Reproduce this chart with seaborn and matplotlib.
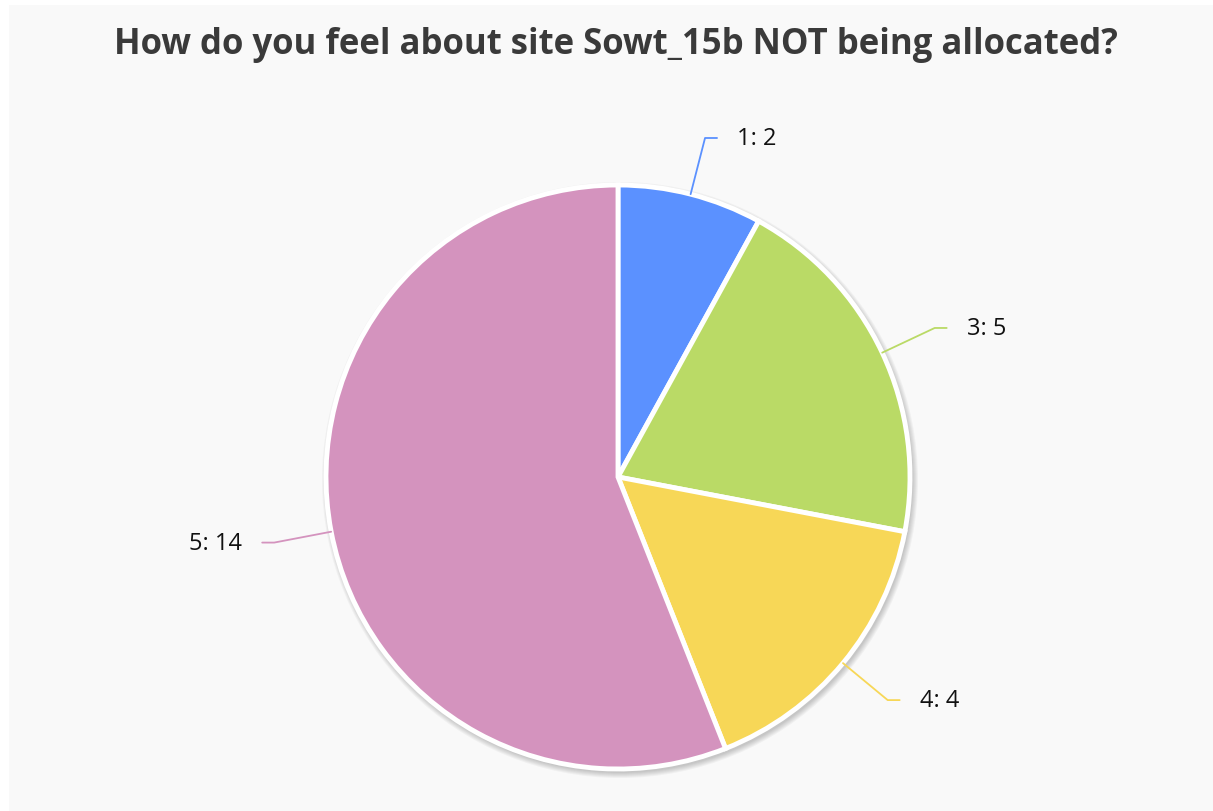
import numpy as np
import seaborn as sns
import matplotlib.pyplot as plt
from matplotlib.patches import Rectangle, Circle

# answers and counts
answers = ["1", "3", "4", "5"]
counts = [2, 5, 4, 14]
colors = ["#5B91FF", "#BADA66", "#F7D757", "#D493BE"]
title = "How do you feel about site Sowt_15b NOT being allocated?"

sns.set_style("white")
plt.rcParams['font.family'] = ['Open Sans', 'DejaVu Sans']

W, H = 1213, 812
fig = plt.figure(figsize=(W / 100, H / 100), dpi=100)
fig.patch.set_facecolor("white")
fig.patches.append(Rectangle((9 / W, 0), 1 - 9 / W, (H - 6) / H, transform=fig.transFigure,
                             facecolor="#F9F9F9", edgecolor="none", zorder=-10))

ax = fig.add_axes([0, 0, 1, 1])
ax.set_xlim(0, W)
ax.set_ylim(0, H)
ax.set_aspect("equal")
ax.axis("off")

cx, cy, r = 618, H - 478, 292

# soft shadow behind pie
for k in range(1, 7):
    ax.add_patch(Circle((cx + 2, cy - 3), r + k, facecolor="black", edgecolor="none",
                        alpha=0.035, zorder=0.5))

wedges, _ = ax.pie(counts, colors=colors, startangle=90, counterclock=False,
                   center=(cx, cy), radius=r, frame=True,
                   wedgeprops=dict(edgecolor="white", linewidth=3.5))
ax.set_xlim(0, W)
ax.set_ylim(0, H)
ax.axis("off")

for w, a, n, c in zip(wedges, answers, counts, colors):
    ang = np.deg2rad((w.theta1 + w.theta2) / 2)
    x0, y0 = cx + r * np.cos(ang), cy + r * np.sin(ang)
    x1, y1 = cx + 350 * np.cos(ang), cy + 350 * np.sin(ang)
    side = 1 if np.cos(ang) >= 0 else -1
    x2 = x1 + side * 12
    ax.plot([x0, x1, x2], [y0, y1, y1], color=c, lw=1.3, zorder=3)
    ax.text(x2 + side * 20, y1, f"{a}: {n}", ha="left" if side > 0 else "right",
            va="center", fontsize=17, color="#111111")

fig.text(616 / W, 1 - 45 / H, title, ha="center", va="center", fontsize=25,
         fontweight="bold", color="#3A3A3A")

fig.savefig("out.png", dpi=100, facecolor=fig.get_facecolor())
